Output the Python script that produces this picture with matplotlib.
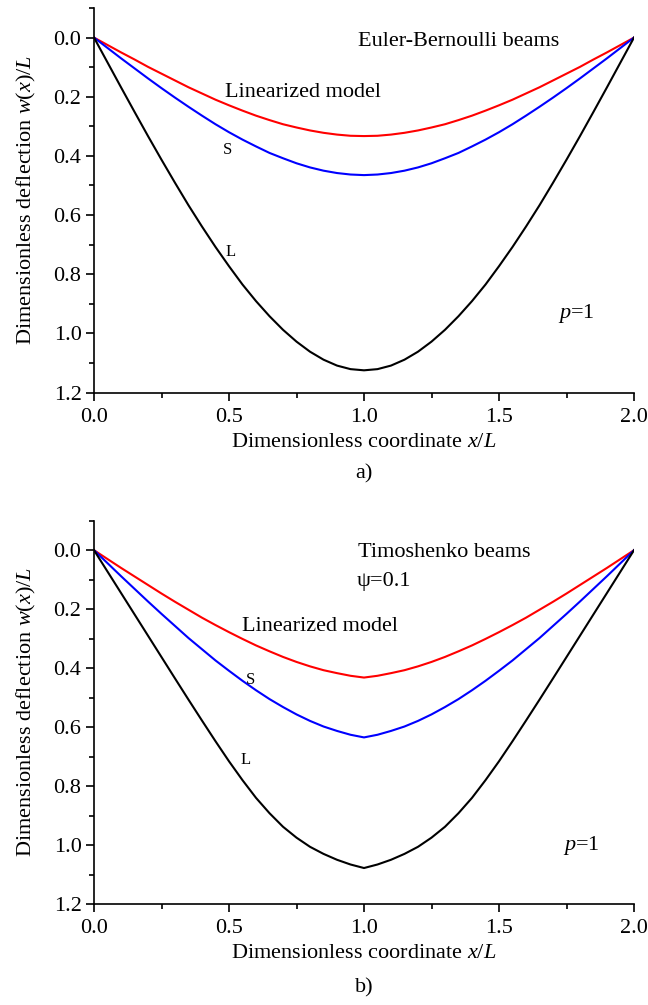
import matplotlib
matplotlib.use("Agg")
import matplotlib.pyplot as plt
from matplotlib.ticker import MultipleLocator, FormatStrFormatter

plt.rcParams['font.family'] = ['Liberation Serif', 'DejaVu Serif']
plt.rcParams['mathtext.fontset'] = 'custom'
plt.rcParams['mathtext.rm'] = 'Liberation Serif'
plt.rcParams['mathtext.it'] = 'Liberation Serif:italic'

# -----------------------------
# DATA
# -----------------------------
x = [0.0, 0.05, 0.1, 0.15, 0.2, 0.25, 0.3, 0.35, 0.4, 0.45, 0.5,
     0.55, 0.6, 0.65, 0.7, 0.75, 0.8, 0.85, 0.9, 0.95, 1.0,
     1.05, 1.1, 1.15, 1.2, 1.25, 1.3, 1.35, 1.4, 1.45, 1.5,
     1.55, 1.6, 1.65, 1.7, 1.75, 1.8, 1.85, 1.9, 1.95, 2.0]

# a) Euler-Bernoulli
eb_lin = [0.0, 0.025, 0.050, 0.074, 0.099, 0.122, 0.145, 0.168, 0.189, 0.210, 0.229,
          0.247, 0.264, 0.279, 0.293, 0.304, 0.314, 0.322, 0.328, 0.332, 0.333,
          0.332, 0.328, 0.322, 0.314, 0.304, 0.293, 0.279, 0.264, 0.247, 0.229,
          0.210, 0.189, 0.168, 0.145, 0.122, 0.099, 0.074, 0.050, 0.025, 0.0]
eb_S = [0.0, 0.035, 0.070, 0.104, 0.138, 0.171, 0.203, 0.234, 0.264, 0.293, 0.320,
        0.345, 0.368, 0.390, 0.408, 0.425, 0.439, 0.450, 0.458, 0.463, 0.465,
        0.463, 0.458, 0.450, 0.439, 0.425, 0.408, 0.390, 0.368, 0.345, 0.320,
        0.293, 0.264, 0.234, 0.203, 0.171, 0.138, 0.104, 0.070, 0.035, 0.0]
eb_L = [0.0, 0.084, 0.168, 0.251, 0.333, 0.413, 0.491, 0.567, 0.639, 0.708, 0.773,
        0.835, 0.891, 0.942, 0.988, 1.028, 1.062, 1.089, 1.109, 1.121, 1.125,
        1.121, 1.109, 1.089, 1.062, 1.028, 0.988, 0.942, 0.891, 0.835, 0.773,
        0.708, 0.639, 0.567, 0.491, 0.413, 0.333, 0.251, 0.168, 0.084, 0.0]

# b) Timoshenko, psi = 0.1
ti_lin = [0.0, 0.030, 0.060, 0.089, 0.118, 0.147, 0.175, 0.202, 0.229, 0.254, 0.278,
          0.301, 0.323, 0.343, 0.362, 0.379, 0.394, 0.407, 0.417, 0.426, 0.432,
          0.426, 0.417, 0.407, 0.394, 0.379, 0.362, 0.343, 0.323, 0.301, 0.278,
          0.254, 0.229, 0.202, 0.175, 0.147, 0.118, 0.089, 0.060, 0.030, 0.0]
ti_S = [0.0, 0.044, 0.088, 0.131, 0.174, 0.216, 0.257, 0.298, 0.336, 0.374, 0.409,
        0.443, 0.475, 0.505, 0.532, 0.557, 0.579, 0.598, 0.613, 0.626, 0.635,
        0.626, 0.613, 0.598, 0.579, 0.557, 0.532, 0.505, 0.475, 0.443, 0.409,
        0.374, 0.336, 0.298, 0.257, 0.216, 0.174, 0.131, 0.088, 0.044, 0.0]
ti_L = [0.0, 0.0725, 0.145, 0.2175, 0.290, 0.3625, 0.435, 0.507, 0.578, 0.648, 0.716,
        0.780, 0.840, 0.892, 0.938, 0.975, 1.006, 1.030, 1.050, 1.066, 1.078,
        1.066, 1.050, 1.030, 1.006, 0.975, 0.938, 0.892, 0.840, 0.780, 0.716,
        0.648, 0.578, 0.507, 0.435, 0.3625, 0.290, 0.2175, 0.145, 0.0725, 0.0]

W, H = 648, 1005
fig = plt.figure(figsize=(W / 100, H / 100), dpi=100)


def setup(ax):
    ax.set_xlim(0, 2)
    ax.set_ylim(1.2, -0.1)
    for s in ['top', 'right']:
        ax.spines[s].set_visible(False)
    for s in ['left', 'bottom']:
        ax.spines[s].set_linewidth(1.2)
    ax.xaxis.set_major_locator(MultipleLocator(0.5))
    ax.xaxis.set_minor_locator(MultipleLocator(0.25))
    ax.yaxis.set_major_locator(MultipleLocator(0.2))
    ax.yaxis.set_minor_locator(MultipleLocator(0.1))
    ax.xaxis.set_major_formatter(FormatStrFormatter('%.1f'))
    ax.yaxis.set_major_formatter(FormatStrFormatter('%.1f'))
    ax.tick_params(which='major', direction='out', length=6, width=1.2,
                   labelsize=16, pad=3)
    ax.tick_params(axis='x', which='major', pad=5)
    ax.tick_params(which='minor', direction='out', length=3.5, width=1.2)
    ax.set_xlabel('Dimensionless coordinate $x/L$', fontsize=16, va='center')
    ax.xaxis.set_label_coords(0.5, -0.130)
    ax.set_ylabel('Dimensionless deflection $w$($x$)/$L$', fontsize=16,
                  va='center', ha='center')
    ax.yaxis.set_label_coords(-0.125, 0.5)


# -----------------------------
# PANEL a)
# -----------------------------
ax1 = fig.add_axes([94 / W, 1 - 392.5 / H, 540 / W, 384.5 / H])
setup(ax1)
ax1.plot(x, eb_lin, color='#ff0000', lw=1.5)
ax1.plot(x, eb_S, color='#0000ff', lw=1.5)
ax1.plot(x, eb_L, color='black', lw=1.5)
ax1.text(0.978, 0.014, 'Euler-Bernoulli beams', fontsize=16, va='center')
ax1.text(0.485, 0.186, 'Linearized model', fontsize=16, va='center')
ax1.text(0.496, 0.38, 'S', fontsize=12, va='center', ha='center')
ax1.text(0.507, 0.725, 'L', fontsize=12, va='center', ha='center')
ax1.text(1.719, 0.932, '$p$=1', fontsize=16, va='center')
fig.text(364 / W, 1 - 474 / H, 'a)', fontsize=16, ha='center', va='center')

# -----------------------------
# PANEL b)
# -----------------------------
ax2 = fig.add_axes([94 / W, 1 - 904 / H, 540 / W, 383.3 / H])
setup(ax2)
ax2.plot(x, ti_lin, color='#ff0000', lw=1.5)
ax2.plot(x, ti_S, color='#0000ff', lw=1.5)
ax2.plot(x, ti_L, color='black', lw=1.5)
ax2.text(0.978, 0.007, 'Timoshenko beams', fontsize=16, va='center')
ax2.text(0.974, 0.105, 'ψ=0.1', fontsize=16, va='center')
ax2.text(0.548, 0.258, 'Linearized model', fontsize=16, va='center')
ax2.text(0.578, 0.441, 'S', fontsize=12, va='center', ha='center')
ax2.text(0.562, 0.712, 'L', fontsize=12, va='center', ha='center')
ax2.text(1.737, 1.0, '$p$=1', fontsize=16, va='center')
fig.text(364 / W, 1 - 988 / H, 'b)', fontsize=16, ha='center', va='center')

fig.savefig('out.png', dpi=100)
